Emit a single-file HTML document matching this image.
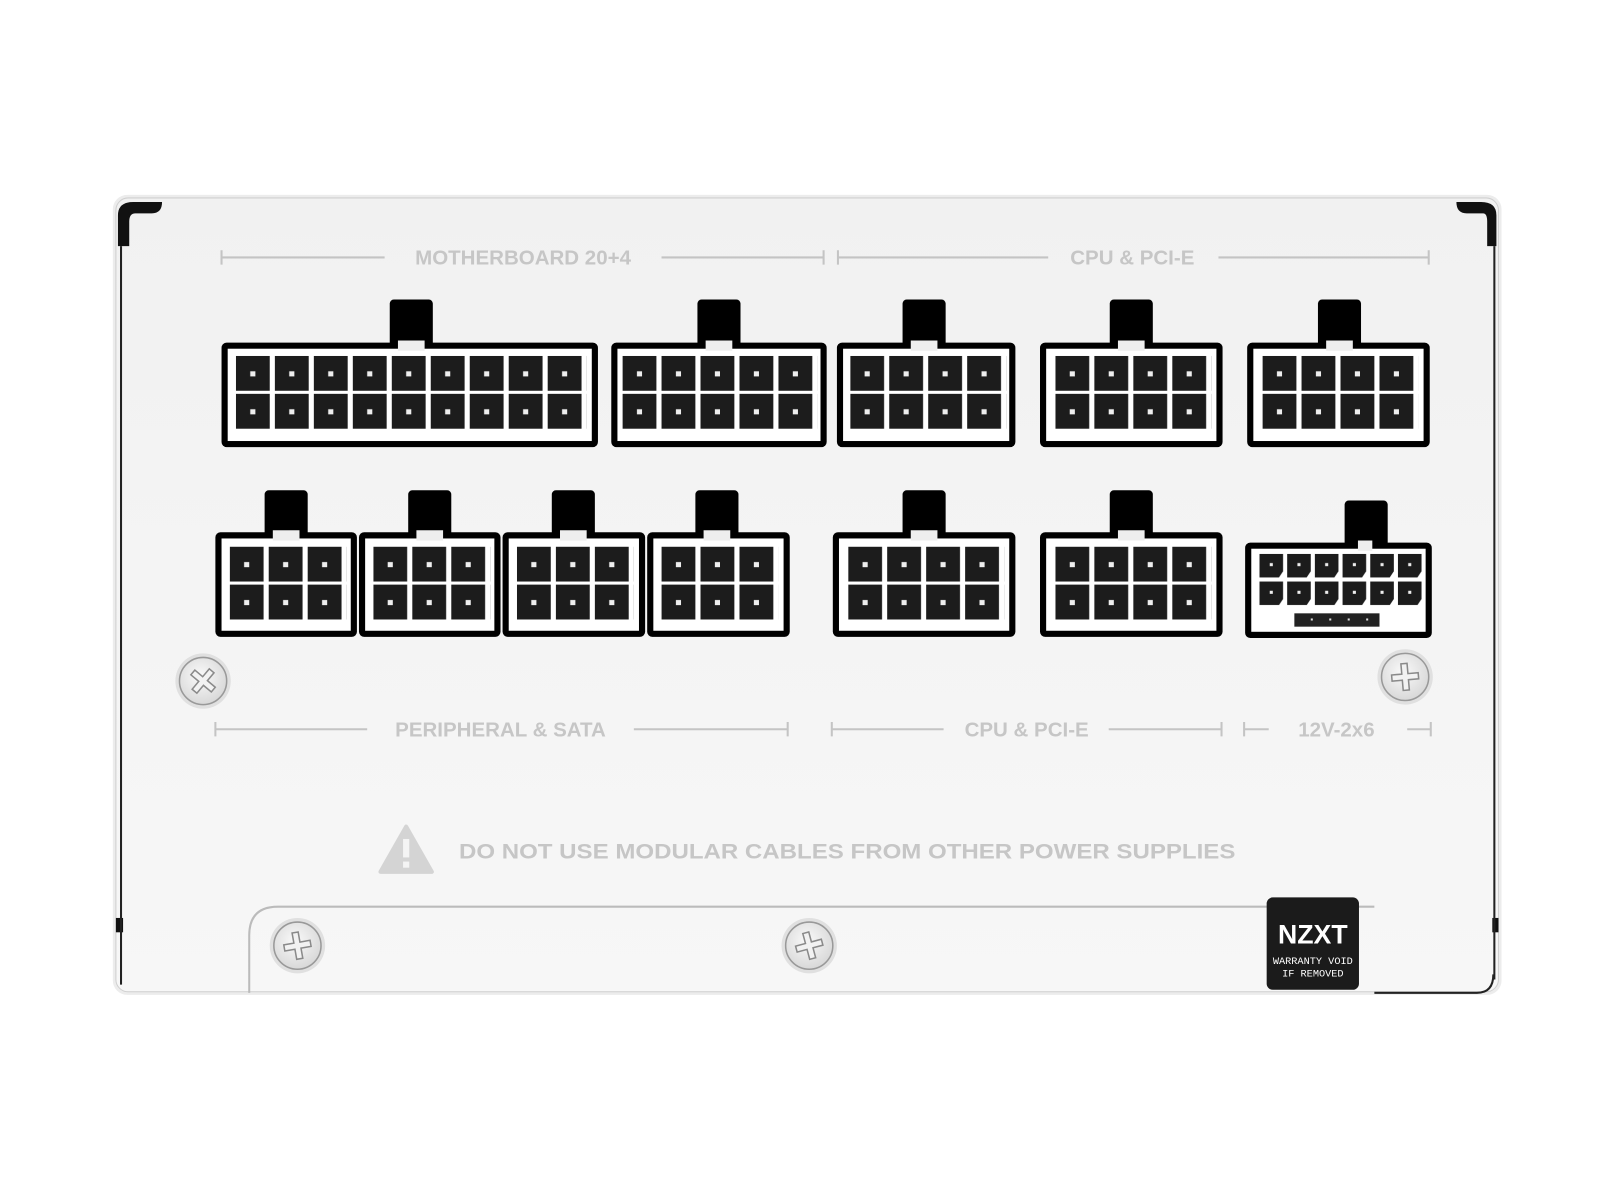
<!DOCTYPE html>
<html><head><meta charset="utf-8"><style>
html,body{margin:0;padding:0;background:#fff;width:1600px;height:1200px;overflow:hidden}
svg{display:block}
text{font-family:"Liberation Sans",sans-serif;font-weight:bold}
</style></head><body>
<svg width="1600" height="1200" viewBox="0 0 1560 1170" xmlns="http://www.w3.org/2000/svg">
<defs>
<pattern id="p" width="38" height="37" patternUnits="userSpaceOnUse">
<rect x="0" y="0" width="33" height="34" fill="#1c1c1c"/>
<rect x="14" y="15" width="5" height="5" fill="#eee"/>
</pattern>
<pattern id="q" width="27" height="27" patternUnits="userSpaceOnUse">
<path d="M0 0H23V17L19 23H0Z" fill="#1c1c1c"/>
<rect x="10" y="9" width="3" height="3" fill="#eee"/>
</pattern>
<radialGradient id="sg" cx="0.45" cy="0.4" r="0.6"><stop offset="0" stop-color="#fafafa"/><stop offset="1" stop-color="#d8d8d8"/></radialGradient>
<linearGradient id="bg" x1="0" y1="0" x2="0" y2="1"><stop offset="0" stop-color="#f1f1f1"/><stop offset="1" stop-color="#f7f7f7"/></linearGradient>
<g id="cross"><path d="M-3 -13H3V-3H13V3H3V13H-3V3H-13V-3H-3Z" fill="#f2f2f2" stroke="#8a8a8a" stroke-width="1.5"/></g>
</defs>
<rect width="1560" height="1170" fill="#fff"/>
<rect x="110" y="190" width="1354" height="780" rx="14" fill="#ececec"/>
<rect x="113" y="193" width="1348" height="774" rx="12" fill="url(#bg)" stroke="#cfcfcf" stroke-width="1"/>
<path d="M115 240 V210 Q115 197 130 197 H158 Q158 208 148 208 H132 Q126 208 126 216 V240Z" fill="#111"/>
<path d="M1459 240 V210 Q1459 197 1444 197 H1420 Q1420 208 1430 208 H1446 Q1450 208 1450 216 V240Z" fill="#111"/>
<rect x="113" y="895" width="7" height="14" fill="#111"/>
<rect x="1455" y="895" width="6" height="14" fill="#111"/>
<line x1="118" y1="240" x2="118" y2="960" stroke="#222" stroke-width="2"/>
<line x1="1457" y1="240" x2="1457" y2="955" stroke="#222" stroke-width="2"/>
<path d="M243 968 V912 Q243 884 271 884 H1340" fill="none" stroke="#bbb" stroke-width="2"/>
<path d="M1340 968 H1440 Q1456 968 1456 950" fill="none" stroke="#222" stroke-width="2"/>
<g fill="#c6c6c6" font-size="20">
<text x="510" y="258" text-anchor="middle">MOTHERBOARD 20+4</text>
<text x="1104" y="258" text-anchor="middle">CPU &amp; PCI-E</text>
<text x="488" y="718" text-anchor="middle">PERIPHERAL &amp; SATA</text>
<text x="1001" y="718" text-anchor="middle">CPU &amp; PCI-E</text>
<text x="1303" y="718" text-anchor="middle">12V-2x6</text>
<text x="826" y="837" text-anchor="middle" font-size="21" textLength="757" lengthAdjust="spacingAndGlyphs">DO NOT USE MODULAR CABLES FROM OTHER POWER SUPPLIES</text>
</g>
<g stroke="#c4c4c4" stroke-width="2">
<path d="M216 251H375M216 244V258M645 251H803M803 244V258"/>
<path d="M817 251H1022M817 244V258M1188 251H1393M1393 244V258"/>
<path d="M210 711H358M210 704V718M618 711H768M768 704V718"/>
<path d="M811 711H920M811 704V718M1081 711H1191M1191 704V718"/>
<path d="M1213 711H1237M1213 704V718M1372 711H1395M1395 704V718"/>
</g>
<path d="M396 806 L421 850 H371 Z" fill="#d4d4d4" stroke="#d4d4d4" stroke-width="4" stroke-linejoin="round"/>
<rect x="393" y="818" width="6" height="18" fill="#f4f4f4"/><rect x="393" y="840" width="6" height="6" fill="#f4f4f4"/>

<g>
<rect x="380" y="292" width="42" height="48" rx="4" fill="#000"/>
<rect x="216" y="334" width="367" height="102" rx="5" fill="#000"/>
<rect x="222" y="340" width="355" height="90" fill="#fff"/><rect x="388" y="332" width="26" height="10" fill="#eee"/>
<g transform="translate(230,347)"><rect width="342" height="72" fill="url(#p)"/></g>
</g>
<g>
<rect x="680" y="292" width="42" height="48" rx="4" fill="#000"/>
<rect x="596" y="334" width="210" height="102" rx="5" fill="#000"/>
<rect x="602" y="340" width="198" height="90" fill="#fff"/><rect x="688" y="332" width="26" height="10" fill="#eee"/>
<g transform="translate(607,347)"><rect width="190" height="72" fill="url(#p)"/></g>
</g>
<g>
<rect x="880" y="292" width="42" height="48" rx="4" fill="#000"/>
<rect x="816" y="334" width="174" height="102" rx="5" fill="#000"/>
<rect x="822" y="340" width="162" height="90" fill="#fff"/><rect x="888" y="332" width="26" height="10" fill="#eee"/>
<g transform="translate(829,347)"><rect width="152" height="72" fill="url(#p)"/></g>
</g>
<g>
<rect x="1082" y="292" width="42" height="48" rx="4" fill="#000"/>
<rect x="1014" y="334" width="178" height="102" rx="5" fill="#000"/>
<rect x="1020" y="340" width="166" height="90" fill="#fff"/><rect x="1090" y="332" width="26" height="10" fill="#eee"/>
<g transform="translate(1029,347)"><rect width="152" height="72" fill="url(#p)"/></g>
</g>
<g>
<rect x="1285" y="292" width="42" height="48" rx="4" fill="#000"/>
<rect x="1216" y="334" width="178" height="102" rx="5" fill="#000"/>
<rect x="1222" y="340" width="166" height="90" fill="#fff"/><rect x="1293" y="332" width="26" height="10" fill="#eee"/>
<g transform="translate(1231,347)"><rect width="152" height="72" fill="url(#p)"/></g>
</g>
<g>
<rect x="258" y="478" width="42" height="48" rx="4" fill="#000"/>
<rect x="210" y="519" width="138" height="102" rx="5" fill="#000"/>
<rect x="216" y="525" width="126" height="90" fill="#fff"/><rect x="266" y="517" width="26" height="10" fill="#eee"/>
<g transform="translate(224,533)"><rect width="114" height="72" fill="url(#p)"/></g>
</g>
<g>
<rect x="398" y="478" width="42" height="48" rx="4" fill="#000"/>
<rect x="350" y="519" width="138" height="102" rx="5" fill="#000"/>
<rect x="356" y="525" width="126" height="90" fill="#fff"/><rect x="406" y="517" width="26" height="10" fill="#eee"/>
<g transform="translate(364,533)"><rect width="114" height="72" fill="url(#p)"/></g>
</g>
<g>
<rect x="538" y="478" width="42" height="48" rx="4" fill="#000"/>
<rect x="490" y="519" width="139" height="102" rx="5" fill="#000"/>
<rect x="496" y="525" width="127" height="90" fill="#fff"/><rect x="546" y="517" width="26" height="10" fill="#eee"/>
<g transform="translate(504,533)"><rect width="114" height="72" fill="url(#p)"/></g>
</g>
<g>
<rect x="678" y="478" width="42" height="48" rx="4" fill="#000"/>
<rect x="631" y="519" width="139" height="102" rx="5" fill="#000"/>
<rect x="637" y="525" width="127" height="90" fill="#fff"/><rect x="686" y="517" width="26" height="10" fill="#eee"/>
<g transform="translate(645,533)"><rect width="114" height="72" fill="url(#p)"/></g>
</g>
<g>
<rect x="880" y="478" width="42" height="48" rx="4" fill="#000"/>
<rect x="812" y="519" width="178" height="102" rx="5" fill="#000"/>
<rect x="818" y="525" width="166" height="90" fill="#fff"/><rect x="888" y="517" width="26" height="10" fill="#eee"/>
<g transform="translate(827,533)"><rect width="152" height="72" fill="url(#p)"/></g>
</g>
<g>
<rect x="1082" y="478" width="42" height="48" rx="4" fill="#000"/>
<rect x="1014" y="519" width="178" height="102" rx="5" fill="#000"/>
<rect x="1020" y="525" width="166" height="90" fill="#fff"/><rect x="1090" y="517" width="26" height="10" fill="#eee"/>
<g transform="translate(1029,533)"><rect width="152" height="72" fill="url(#p)"/></g>
</g>
<g>
<rect x="1311" y="488" width="42" height="48" rx="4" fill="#000"/>
<rect x="1214" y="529" width="182" height="93" rx="5" fill="#000"/>
<rect x="1220" y="535" width="170" height="81" fill="#fff"/><rect x="1324" y="527" width="14" height="10" fill="#eee"/>
<g transform="translate(1228,540)"><rect width="160" height="50" fill="url(#q)"/></g>
<rect x="1262" y="598" width="83" height="13" fill="#222"/>
<g fill="#ddd"><rect x="1278" y="603" width="2" height="2"/><rect x="1296" y="603" width="2" height="2"/><rect x="1314" y="603" width="2" height="2"/><rect x="1332" y="603" width="2" height="2"/></g>
</g>
<g>
<g transform="translate(198,664)"><circle r="27" fill="#e0e0e0"/><circle r="23" fill="url(#sg)" stroke="#999" stroke-width="1.5"/><use href="#cross" transform="rotate(40)"/></g>
<g transform="translate(1370,660)"><circle r="27" fill="#e0e0e0"/><circle r="23" fill="url(#sg)" stroke="#999" stroke-width="1.5"/><use href="#cross" transform="rotate(-5)"/></g>
<g transform="translate(290,922)"><circle r="27" fill="#e0e0e0"/><circle r="23" fill="url(#sg)" stroke="#999" stroke-width="1.5"/><use href="#cross" transform="rotate(-10)"/></g>
<g transform="translate(789,922)"><circle r="27" fill="#e0e0e0"/><circle r="23" fill="url(#sg)" stroke="#999" stroke-width="1.5"/><use href="#cross" transform="rotate(-15)"/></g>
</g>
<rect x="1235" y="875" width="90" height="90" rx="6" fill="#1b1b1b"/>
<text x="1280" y="920" text-anchor="middle" fill="#fff" font-size="26">NZXT</text>
<text x="1280" y="940" text-anchor="middle" fill="#fff" font-size="10" style="font-family:'Liberation Mono',monospace;font-weight:normal">WARRANTY VOID</text>
<text x="1280" y="952" text-anchor="middle" fill="#fff" font-size="10" style="font-family:'Liberation Mono',monospace;font-weight:normal">IF REMOVED</text>
</svg>
</body></html>
